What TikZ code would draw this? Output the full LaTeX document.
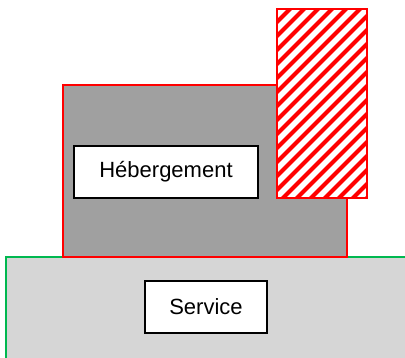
\documentclass[tikz,border=0pt]{standalone}
\usepackage{fontspec}
\setmainfont{Liberation Sans}
\definecolor{layergreen}{RGB}{0,184,80}
\definecolor{layerred}{RGB}{255,0,0}
\definecolor{layerdark}{RGB}{160,160,160}
\definecolor{layerlight}{RGB}{214,214,214}
\tikzset{
  layer base/.style={draw=layergreen,line width=1.5pt,fill=layerlight},
  layer host/.style={draw=layerred,line width=1.3pt,fill=layerdark},
  layer frame/.style={draw=layerred,line width=1.5pt},
  layer stripe/.style={draw=layerred,line width=4pt},
  layer label/.style={draw=black,line width=1.5pt,fill=white,inner sep=0pt,
    minimum height=52pt,font=\fontsize{22}{26}\selectfont}
}
\begin{document}
\begin{tikzpicture}[x=1pt,y=-1pt]
  \useasboundingbox (0,0) rectangle (405,357);
  \clip (0,0) rectangle (405,357);
  \draw[layer base] (6,257) rectangle (420,372);
  \draw[layer host] (63,85) rectangle (347,257);
  % hatched block
  \begin{scope}
    \clip (277,9) rectangle (367,198);
    \fill[white] (277,9) rectangle (367,198);
    \foreach \x in {80,94,...,370}
      \draw[layer stripe] (\x,205) -- ++(260,-260);
  \end{scope}
  \draw[layer frame] (277,9) rectangle (367,198);

  \node[layer label,minimum width=184pt] (hebergement) at (166,172) {Hébergement};
  \node[layer label,minimum width=122pt] (service) at (206,307) {Service};
\end{tikzpicture}
\end{document}
